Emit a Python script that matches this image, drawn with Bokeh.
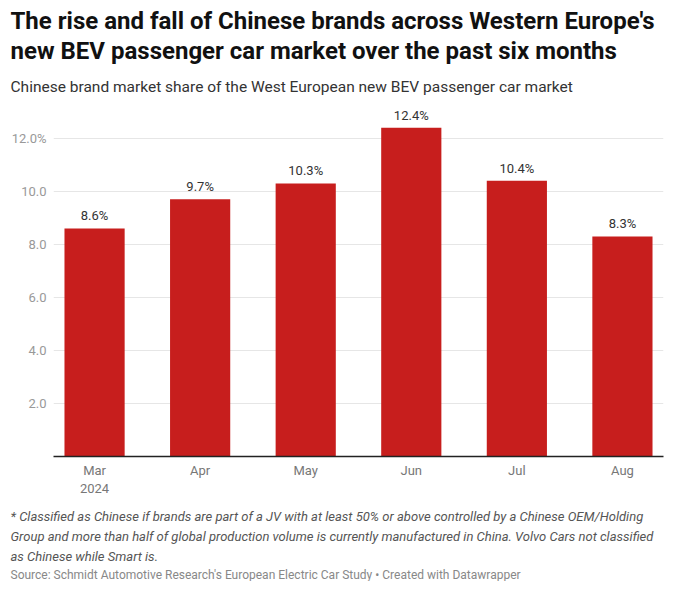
from bokeh.plotting import figure
from bokeh.models import ColumnDataSource, FactorRange, Range1d, FixedTicker, Title, CategoricalAxis
from bokeh.core.properties import value
from bokeh.embed import file_html
from bokeh.resources import INLINE

months = ["Mar", "Apr", "May", "Jun", "Jul", "Aug"]
year_labels = ["2024", "", "", "", "", ""]
share = [8.6, 9.7, 10.3, 12.4, 10.4, 8.3]
share_labels = ["8.6%", "9.7%", "10.3%", "12.4%", "10.4%", "8.3%"]
y_ticks = [0, 2, 4, 6, 8, 10, 12]
y_tick_labels = ["", "2.0", "4.0", "6.0", "8.0", "10.0", "12.0%"]

title_lines = [
    "The rise and fall of Chinese brands across Western Europe's",
    "new BEV passenger car market over the past six months",
]
subtitle = "Chinese brand market share of the West European new BEV passenger car market"
notes = [
    "* Classified as Chinese if brands are part of a JV with at least 50% or above controlled by a Chinese OEM/Holding",
    "Group and more than half of global production volume is currently manufactured in China. Volvo Cars not classified",
    "as Chinese while Smart is.",
]
source_text = "Source: Schmidt Automotive Research's European Electric Car Study \u2022 Created with Datawrapper"

FONT = "Roboto"
LEFT = 53
PAD = -0.037

src = ColumnDataSource(dict(month=months, share=share, lbl=share_labels))

W, H = 664, 581
p = figure(
    width=W, height=H,
    x_range=FactorRange(factors=months, range_padding=PAD),
    y_range=Range1d(0, 13.2),
    output_backend="svg", toolbar_location=None,
    min_border_left=LEFT, min_border_right=1,
    min_border_top=0, min_border_bottom=0,
)
p.outline_line_color = None
p.background_fill_color = "white"
p.border_fill_color = "white"

p.vbar(x="month", top="share", width=0.57, source=src,
       fill_color="#c71e1d", line_color=None)

p.text(x="month", y="share", text="lbl", source=src,
       text_align="center", text_baseline="bottom", y_offset=-5,
       text_font=value(FONT), text_font_size="13px", text_color="#333333")

# x axis (month)
xa = p.xaxis[0]
xa.axis_line_color = "#222222"
xa.axis_line_width = 1.5
xa.major_tick_line_color = None
xa.major_tick_out = 0
xa.major_tick_in = 0
xa.minor_tick_line_color = None
xa.major_label_standoff = 6
xa.major_label_text_font = FONT
xa.major_label_text_font_size = "13px"
xa.major_label_text_color = "#777777"

# second row of x labels (year) on a parallel factor range
year_factors = [y if y else " " * (i + 1) for i, y in enumerate(year_labels)]
p.extra_x_ranges = {"year": FactorRange(factors=year_factors, range_padding=PAD)}
xa2 = CategoricalAxis(
    x_range_name="year",
    axis_line_color=None, major_tick_line_color=None, minor_tick_line_color=None,
    major_tick_out=0, major_tick_in=0,
    major_label_standoff=0, major_label_text_font=FONT,
    major_label_text_font_size="13px", major_label_text_color="#777777",
)
p.add_layout(xa2, "below")

# y axis
ya = p.yaxis[0]
ya.ticker = FixedTicker(ticks=y_ticks)
ya.major_label_overrides = {t: l for t, l in zip(y_ticks, y_tick_labels)}
ya.axis_line_color = None
ya.major_tick_line_color = None
ya.major_tick_out = 0
ya.minor_tick_line_color = None
ya.major_label_standoff = 7
ya.major_label_text_font = FONT
ya.major_label_text_font_size = "13px"
ya.major_label_text_color = "#999999"

p.xgrid.grid_line_color = None
p.ygrid.ticker = FixedTicker(ticks=y_ticks[1:])
p.ygrid.grid_line_color = "#e6e6e6"
p.ygrid.grid_line_width = 1


def title(txt, size, color, style, standoff, where):
    t = Title(text=txt, align="left", offset=10 - LEFT, standoff=standoff,
              text_font=FONT, text_font_size=size, text_color=color,
              text_font_style=style)
    p.add_layout(t, where)


# above: first added is nearest to the plot
title(subtitle, "15.5px", "#333333", "normal", 21.5, "above")
title(title_lines[1], "24px", "#111111", "bold", 0, "above")
title(title_lines[0], "24px", "#111111", "bold", 0, "above")
title(" ", "2px", "#ffffff", "normal", 0, "above")

# below: after the axes, in order downward
title(" ", "1px", "#ffffff", "normal", 4, "below")
title(notes[0], "13px", "#555555", "italic", 2.5, "below")
title(notes[1], "13px", "#555555", "italic", 2.5, "below")
title(notes[2], "13px", "#555555", "italic", 2.5, "below")
title(source_text, "12px", "#888888", "normal", 0, "below")

open("out.html", "w").write(file_html(p, INLINE))
